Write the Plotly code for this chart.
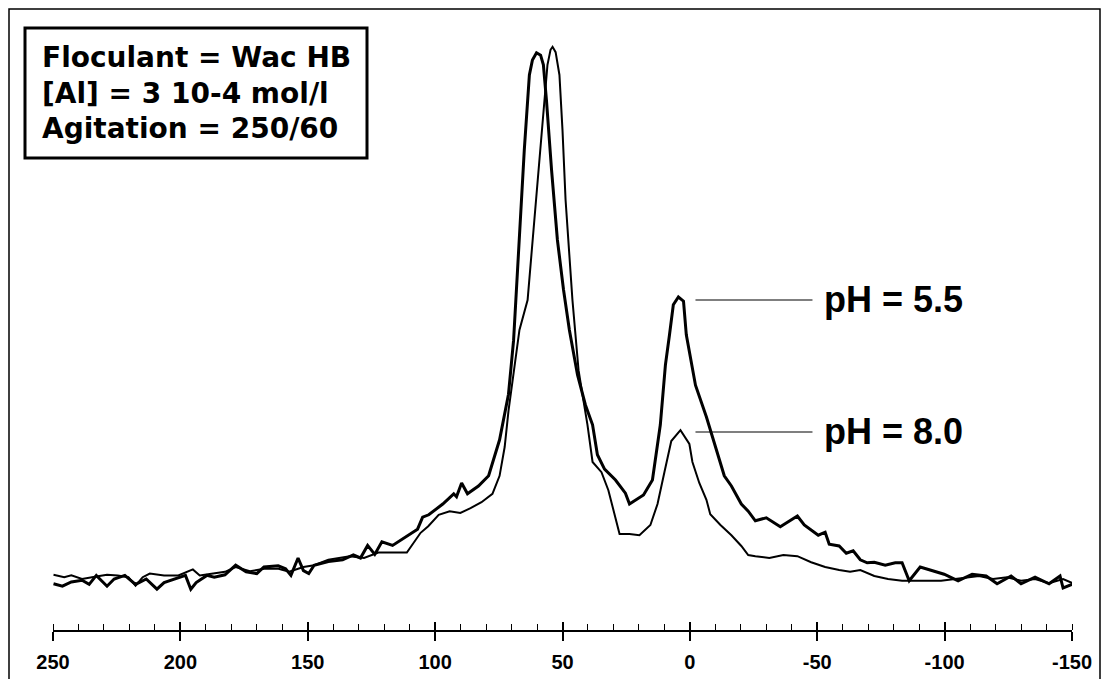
import plotly.graph_objects as go

# ---------------- data (chemical shift, ppm ; intensity, arbitrary units) -------------
shift_ph55 = [249.8, 246.3, 242.8, 238.6, 235.8, 233.0, 228.8, 226.0, 221.8, 217.6,
              213.4, 209.2, 206.4, 202.2, 198.0, 195.9, 193.8, 189.6, 186.7, 182.5,
              178.3, 174.2, 170.0, 167.2, 161.6, 158.7, 156.6, 153.8, 151.7, 149.6,
              147.5, 141.9, 136.3, 132.1, 129.3, 126.5, 123.7, 120.9, 116.7, 106.9,
              104.9, 102.5, 97.0, 92.7, 91.6, 89.6, 87.3, 83.0, 79.0, 74.7,
              71.2, 69.2, 66.9, 65.0, 63.0, 61.8, 60.2, 58.6, 57.5, 56.3,
              54.3, 52.0, 49.6, 47.3, 44.1, 41.0, 38.2, 36.3, 33.5, 29.2,
              25.3, 23.7, 18.2, 14.7, 11.6, 9.6, 8.0, 6.5, 4.5, 2.5,
              1.4, -2.2, -6.5, -10.4, -13.5, -16.3, -20.2, -22.9, -25.7, -30.0,
              -35.5, -42.2, -44.9, -50.4, -53.1, -54.7, -58.6, -61.4, -64.1, -66.9,
              -69.6, -72.4, -76.7, -80.6, -83.3, -86.1, -90.4, -94.3, -99.8, -105.3,
              -110.8, -116.3, -120.6, -126.1, -130.0, -135.5, -141.0, -145.3, -146.5, -151.2]
intensity_ph55 = [7.7, 7.3, 8.0, 8.3, 7.6, 9.1, 7.3, 8.5, 9.1, 7.6,
                  8.5, 6.8, 7.9, 8.5, 9.1, 6.8, 7.9, 9.1, 8.8, 9.2,
                  10.8, 9.7, 9.4, 10.5, 10.7, 10.2, 9.1, 12.0, 9.9, 9.4,
                  10.8, 11.4, 11.7, 12.5, 12.0, 14.1, 12.6, 14.7, 14.1, 16.8,
                  18.8, 19.2, 21.0, 22.7, 22.2, 24.5, 22.7, 24.0, 25.7, 31.7,
                  39.3, 48.3, 66.7, 80.0, 92.5, 95.0, 96.2, 95.8, 94.2, 88.3,
                  76.7, 65.0, 56.7, 50.0, 42.5, 37.5, 34.2, 29.2, 26.8, 25.0,
                  22.8, 21.0, 22.5, 25.0, 34.2, 44.2, 49.2, 54.2, 55.5, 54.8,
                  49.2, 40.8, 35.5, 30.0, 25.7, 24.0, 21.0, 19.8, 18.2, 18.7,
                  17.2, 19.0, 17.5, 15.8, 16.3, 14.3, 14.0, 12.8, 13.2, 11.7,
                  11.2, 11.3, 10.8, 11.2, 11.2, 8.2, 10.5, 10.0, 9.3, 8.2,
                  9.3, 9.0, 7.7, 9.0, 7.7, 8.8, 7.7, 9.0, 7.0, 7.8]

shift_ph80 = [249.8, 245.6, 242.8, 238.6, 233.0, 228.8, 224.6, 220.4, 217.6, 214.8,
              212.0, 206.4, 200.8, 195.1, 192.4, 186.7, 182.5, 178.3, 172.7, 167.1,
              161.5, 157.3, 151.7, 147.5, 141.9, 133.5, 127.9, 122.3, 116.7, 111.1,
              105.7, 102.7, 98.6, 94.3, 90.1, 86.1, 81.8, 77.5, 74.7, 72.7,
              71.2, 69.2, 66.9, 63.7, 61.0, 59.0, 57.5, 55.9, 54.7, 53.9,
              52.7, 51.2, 50.0, 48.8, 46.1, 43.7, 41.8, 40.2, 38.2, 34.7,
              32.0, 29.2, 27.6, 23.7, 19.8, 15.5, 12.7, 10.0, 7.3, 3.7,
              0.2, -1.0, -3.7, -6.5, -8.0, -12.0, -16.3, -20.2, -22.9, -25.7,
              -31.2, -36.7, -42.2, -47.6, -53.1, -58.6, -62.9, -66.9, -72.4, -77.8,
              -83.3, -98.6, -104.1, -109.6, -113.5, -119.0, -124.5, -130.0, -135.5, -141.0,
              -146.5, -150.8]
intensity_ph80 = [9.2, 8.8, 9.1, 8.5, 8.9, 9.2, 9.1, 8.8, 7.4, 8.8,
                  9.4, 9.1, 9.1, 10.1, 9.1, 9.4, 9.7, 10.5, 9.8, 10.2,
                  10.2, 9.7, 10.5, 10.8, 11.7, 12.3, 12.0, 12.9, 12.9, 12.9,
                  16.2, 17.3, 19.2, 19.8, 19.5, 20.3, 21.3, 22.7, 25.7, 30.5,
                  36.5, 42.5, 50.0, 55.0, 68.3, 78.3, 86.7, 94.2, 96.7, 97.2,
                  96.3, 92.5, 83.3, 71.7, 55.0, 43.3, 38.3, 34.2, 28.0, 26.3,
                  23.3, 18.7, 16.0, 16.0, 15.8, 17.5, 21.0, 26.3, 31.5, 33.3,
                  31.0, 28.0, 24.5, 21.7, 19.3, 17.5, 15.8, 14.0, 12.5, 12.3,
                  12.0, 12.5, 12.3, 11.3, 10.5, 10.0, 9.7, 10.0, 9.0, 8.5,
                  8.2, 8.2, 8.5, 8.8, 9.0, 8.5, 8.8, 8.2, 8.5, 7.8,
                  8.5, 7.7]

tick_values = [250, 200, 150, 100, 50, 0, -50, -100, -150]
tick_labels = ["250", "200", "150", "100", "50", "0", "-50", "-100", "-150"]

box_lines = ["Floculant = Wac HB", "[Al] = 3 10-4 mol/l", "Agitation = 250/60"]
series_labels = ["pH = 5.5", "pH = 8.0"]
label_point_shift = [-2.2, -2.2]
label_point_intensity = [55.0, 33.0]

# ---------------- geometry ----------------
# the page body adds an 8 px offset; the figure is laid out in screen pixels minus it
OFF = 8
W, H = 1101, 671
L, R, T, B = 53 - OFF, 37, 10 - OFF, 49
PW, PH = W - L - R, H - T - B
Y_MAX = 103.33


def px_x(px):
    """screen x pixel -> paper coordinate"""
    return (px - OFF - L) / PW


def px_y(py):
    """screen y pixel -> paper coordinate"""
    return (H - B - (py - OFF)) / PH


FONT = "Liberation Sans, Arial, Helvetica, sans-serif"
BOX_FONT = "DejaVu Sans, Liberation Sans, sans-serif"

fig = go.Figure()
fig.add_trace(go.Scatter(x=shift_ph80, y=intensity_ph80, mode="lines",
                         line=dict(color="black", width=2), hoverinfo="skip",
                         showlegend=False))
fig.add_trace(go.Scatter(x=shift_ph55, y=intensity_ph55, mode="lines",
                         line=dict(color="black", width=3), hoverinfo="skip",
                         showlegend=False))
# invisible helper trace so that the second (tick-only) axis is drawn
fig.add_trace(go.Scatter(x=[tick_values[0]], y=[0], xaxis="x2", mode="markers",
                         marker=dict(opacity=0), hoverinfo="skip", showlegend=False))

fig.update_layout(
    width=W, height=H,
    margin=dict(l=L, r=R, t=T, b=B, autoexpand=False),
    paper_bgcolor="white", plot_bgcolor="white",
    xaxis=dict(range=[250, -150], tickmode="array", tickvals=tick_values,
               ticktext=tick_labels, ticks="outside", ticklen=9, tickwidth=1.5,
               tickcolor="black", showline=True, linecolor="black", linewidth=1.5,
               showgrid=False, zeroline=False,
               minor=dict(ticks="inside", tickmode="linear", tick0=0, dtick=10,
                          ticklen=6, tickwidth=1.2, tickcolor="black", showgrid=False),
               tickfont=dict(family=FONT, size=20, color="black", weight="bold"),
               ticklabelstandoff=4),
    xaxis2=dict(range=[250, -150], overlaying="x", anchor="y", side="bottom",
                tickmode="array", tickvals=tick_values, ticks="inside", ticklen=8,
                tickwidth=1.5, tickcolor="black", showticklabels=False,
                showline=False, showgrid=False, zeroline=False),
    yaxis=dict(range=[0, Y_MAX], visible=False, showgrid=False, zeroline=False),
)

shapes = [
    # outer frame
    dict(type="rect", xref="paper", yref="paper",
         x0=px_x(9), x1=px_x(1100), y0=px_y(700), y1=px_y(9),
         line=dict(color="black", width=1.5), fillcolor="rgba(0,0,0,0)"),
    # legend box
    dict(type="rect", xref="paper", yref="paper",
         x0=px_x(25), x1=px_x(367), y0=px_y(158), y1=px_y(28),
         line=dict(color="black", width=3), fillcolor="rgba(0,0,0,0)"),
]
fig.update_layout(shapes=shapes)

annotations = []
for i, txt in enumerate(box_lines):
    annotations.append(dict(xref="paper", yref="paper", x=px_x(40),
                            y=px_y(58 + 35.5 * i), xanchor="left", yanchor="middle",
                            text=txt, showarrow=False,
                            font=dict(family=BOX_FONT, size=28, color="black",
                                      weight="bold")))
for i, txt in enumerate(series_labels):
    annotations.append(dict(x=label_point_shift[i], y=label_point_intensity[i],
                            xref="x", yref="y", text=txt, showarrow=True,
                            arrowhead=0, arrowwidth=1.2, arrowcolor="black",
                            ax=198, ay=0, borderpad=11,
                            font=dict(family=FONT, size=36, color="black", weight="bold")))
fig.update_layout(annotations=annotations)

fig.write_html("out.html")
